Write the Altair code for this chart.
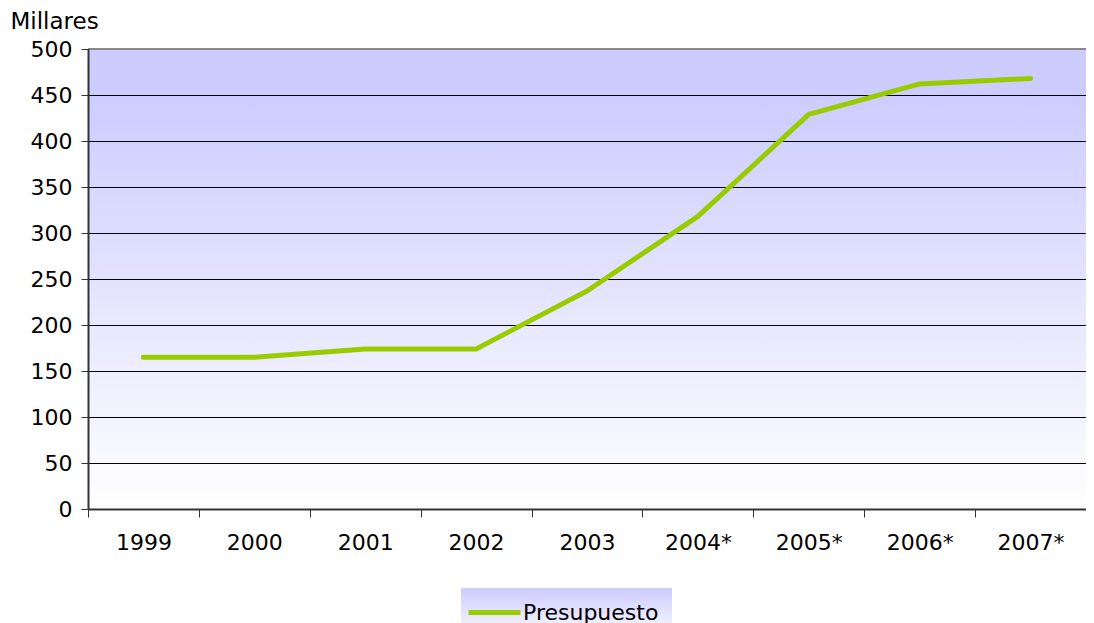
import altair as alt
import pandas as pd

years = ["1999", "2000", "2001", "2002", "2003", "2004*", "2005*", "2006*", "2007*"]
presupuesto = [165, 165, 174, 174, 237, 318, 429, 462, 468]
series_name = "Presupuesto"
y_ticks = [0, 50, 100, 150, 200, 250, 300, 350, 400, 450, 500]
grid_values = [50, 100, 150, 200, 250, 300, 350, 400, 450]

df = pd.DataFrame({"year": years, "value": presupuesto, "serie": [series_name] * len(years)})
gdf = pd.DataFrame({"g": grid_values})

W, H = 998, 460
FONT = "DejaVu Sans"
FS = 22

def grad(c0, c1, mid=0.1):
    return alt.Gradient(
        gradient="linear",
        stops=[alt.GradientStop(color=c0, offset=0),
               alt.GradientStop(color=c0, offset=mid),
               alt.GradientStop(color=c1, offset=1)],
        x1=0, x2=0, y1=0, y2=1,
    )

bg = alt.Chart(df).mark_rect(color=grad("#ccccff", "#ffffff")).encode(
    x=alt.value(0), x2=alt.value(W), y=alt.value(0), y2=alt.value(H))

legend_bg = alt.Chart(df).mark_rect(color=grad("#ccccff", "#f4f4ff", 0.0)).encode(
    x=alt.value(373), x2=alt.value(584), y=alt.value(539), y2=alt.value(580))

yscale = alt.Scale(domain=[0, 500], nice=False)
xscale = alt.Scale(type="band", paddingInner=0, paddingOuter=0, domain=years)

yaxis = alt.Axis(values=y_ticks, title="Millares", titleAngle=0, titleX=-78, titleY=-21,
                 titleAlign="left", titleBaseline="alphabetic", titleFontSize=23,
                 titleFont=FONT, titleFontWeight="normal", titleColor="#000",
                 labelFontSize=FS, labelFont=FONT, labelColor="#000", labelPadding=9,
                 tickSize=7, tickColor="#333", domainColor="#333", domainWidth=2,
                 grid=False, zindex=1)

grid = alt.Chart(gdf).mark_rule(color="#000", strokeWidth=1, yOffset=0.5).encode(
    y=alt.Y("g:Q", scale=yscale, axis=yaxis),
    x=alt.value(0), x2=alt.value(W))

line = alt.Chart(df).mark_line(strokeWidth=5, strokeCap="round", strokeJoin="round").encode(
    x=alt.X("year:O", scale=xscale, sort=years,
            axis=alt.Axis(title=None, tickBand="extent", labelAngle=0, labelFontSize=FS,
                          labelFont=FONT, labelColor="#000", labelPadding=15, tickSize=8,
                          tickColor="#333", domainColor="#333", domainWidth=2, grid=False,
                          zindex=1)),
    y=alt.Y("value:Q", scale=yscale, axis=yaxis),
    color=alt.Color("serie:N", scale=alt.Scale(domain=[series_name], range=["#99cc00"]),
                    legend=alt.Legend(title=None, orient="none", legendX=378, legendY=535,
                                      symbolType="stroke", symbolStrokeWidth=5, symbolSize=2704,
                                      labelFontSize=FS, labelFont=FONT, labelColor="#000",
                                      padding=0, labelOffset=0)),
)

top = alt.Chart(df).mark_rule(color="#888", strokeWidth=2).encode(
    x=alt.value(0), x2=alt.value(W), y=alt.value(0))

chart = alt.layer(bg, legend_bg, grid, line, top).properties(
    width=W, height=H,
    autosize=alt.AutoSizeParams(type="none"),
    padding={"left": 80, "top": 41, "right": 0, "bottom": 114},
).configure_view(stroke=None)

chart.save("out.html", embed_options={"renderer": "svg", "actions": False})
